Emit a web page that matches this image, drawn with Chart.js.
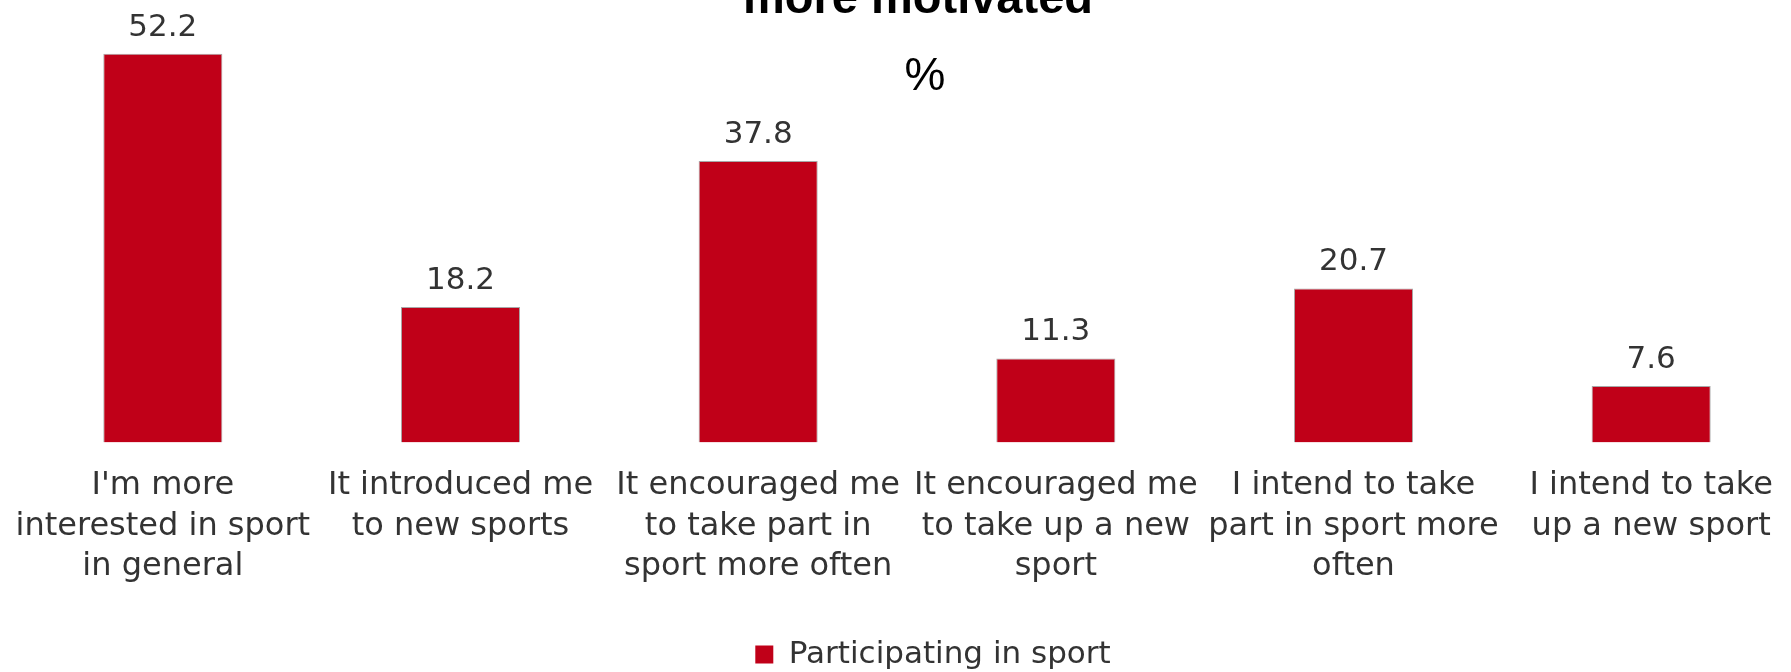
<!DOCTYPE html>
<html>
<head>
<meta charset="utf-8">
<title>Participating in sport</title>
<script src="https://cdn.jsdelivr.net/npm/chart.js@4.4.1/dist/chart.umd.min.js"></script>
<style>
  html, body {
    margin: 0;
    padding: 0;
    background: #fff;
    overflow: hidden;
    width: 1791px;
    height: 672px;
  }
  #wrap {
    position: relative;
    width: 1791px;
    height: 672px;
    overflow: hidden;
  }
  #chart {
    position: absolute;
    left: 0;
    top: 0;
  }
  /* title lines sit above the plot; the first line is cut off by the frame */
  .title {
    position: absolute;
    width: 800px;
    text-align: center;
    font-family: "Liberation Sans", Arial, sans-serif;
    color: #000;
    white-space: nowrap;
  }
  #titleMain {
    left: 518px;
    top: -27px;
    font-size: 47px;
    line-height: 47px;
    font-weight: bold;
  }
  #titleUnit {
    left: 525px;
    top: 51px;
    font-size: 46px;
    line-height: 46px;
  }
</style>
</head>
<body>
<div id="wrap">
  <canvas id="chart" width="1852" height="680"></canvas>
  <div class="title" id="titleMain">more motivated</div>
  <div class="title" id="titleUnit">%</div>
</div>
<script>
// Category labels, already split into the lines used in the picture
const categories = [
  ["I'm more", "interested in sport", "in general"],
  ["It introduced me", "to new sports"],
  ["It encouraged me", "to take part in", "sport more often"],
  ["It encouraged me", "to take up a new", "sport"],
  ["I intend to take", "part in sport more", "often"],
  ["I intend to take", "up a new sport"]
];

// Share of respondents (%), one value per category
const participating = [52.2, 18.2, 37.8, 11.3, 20.7, 7.6];

const seriesName = 'Participating in sport';
const barColor = '#C00018';
const textColor = '#333333';
const labelFont = 'DejaVu Sans';

// Small inline plugin: write each value above its bar
const valueLabels = {
  id: 'valueLabels',
  afterDatasetsDraw(chart) {
    const ctx = chart.ctx;
    const meta = chart.getDatasetMeta(0);
    const values = chart.data.datasets[0].data;
    ctx.save();
    ctx.font = '31px "' + labelFont + '"';
    ctx.fillStyle = textColor;
    ctx.textAlign = 'center';
    ctx.textBaseline = 'alphabetic';
    meta.data.forEach((bar, i) => {
      ctx.fillText(values[i].toFixed(1), bar.x, bar.y - 18);
    });
    ctx.restore();
  }
};

const ctx = document.getElementById('chart').getContext('2d');

new Chart(ctx, {
  type: 'bar',
  data: {
    labels: categories,
    datasets: [{
      label: seriesName,
      data: participating,
      backgroundColor: barColor,
      borderColor: '#a8a8a8',
      borderWidth: 1,
      barPercentage: 0.4,
      categoryPercentage: 1.0
    }]
  },
  options: {
    responsive: false,
    animation: false,
    devicePixelRatio: 1,
    layout: {
      padding: { left: 14, right: 0, top: 33, bottom: 0 }
    },
    plugins: {
      title: { display: false },
      tooltip: { enabled: false },
      legend: {
        display: true,
        position: 'bottom',
        labels: {
          boxWidth: 18,
          boxHeight: 18,
          padding: 52,
          color: textColor,
          font: { family: labelFont, size: 31 },
          // plain red square, as in the original legend
          generateLabels(chart) {
            const items = Chart.defaults.plugins.legend.labels.generateLabels(chart);
            items.forEach(item => {
              item.lineWidth = 0;
              item.strokeStyle = barColor;
            });
            return items;
          }
        }
      }
    },
    scales: {
      x: {
        // hidden tick marks give the gap between bars and labels, so the
        // tick padding does not also widen the plot's side margins
        grid: { display: false, drawTicks: true, tickLength: 23 },
        border: { display: false },
        ticks: {
          autoSkip: false,
          maxRotation: 0,
          minRotation: 0,
          padding: 0,
          color: textColor,
          font: { family: labelFont, size: 32, lineHeight: 1.265 }
        }
      },
      y: {
        // kept on the right with no marks, only to leave the same empty
        // margin the original has on that side
        position: 'right',
        min: 0,
        max: 55,
        grid: { display: false, drawTicks: false },
        border: { display: false },
        ticks: { display: false },
        afterFit(scale) {
          scale.width = 52;
        }
      }
    }
  },
  plugins: [valueLabels]
});
</script>
</body>
</html>
